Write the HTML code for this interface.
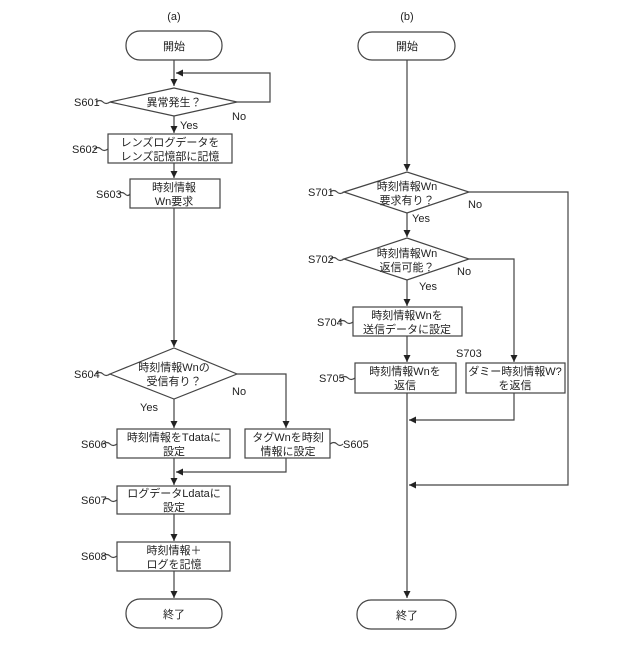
<!DOCTYPE html>
<html><head><meta charset="utf-8"><style>
html,body{margin:0;padding:0;background:#fff}
svg text{font-family:"Liberation Sans","Noto Sans CJK JP",sans-serif;font-size:11px;fill:#222}
</style></head><body>
<svg width="640" height="640" viewBox="0 0 640 640" xmlns="http://www.w3.org/2000/svg">
<defs><marker id="a" markerWidth="8" markerHeight="8" refX="7" refY="4" orient="auto" markerUnits="userSpaceOnUse"><path d="M0,0.5 L7,4 L0,7.5 z" fill="#222"/></marker></defs>
<g stroke="#444" stroke-width="1.2" fill="none">
<!-- left -->
<rect x="126" y="31" width="96" height="29" rx="14"/>
<line x1="174" y1="60" x2="174" y2="86" marker-end="url(#a)"/>
<polyline points="237,102 270,102 270,73 176,73" marker-end="url(#a)"/>
<polygon points="110,102 174,88 237,102 174,116"/>
<line x1="174" y1="116" x2="174" y2="133" marker-end="url(#a)"/>
<rect x="108" y="134" width="124" height="29"/>
<line x1="174" y1="163" x2="174" y2="178" marker-end="url(#a)"/>
<rect x="130" y="179" width="90" height="29"/>
<line x1="174" y1="208" x2="174" y2="347" marker-end="url(#a)"/>
<polygon points="110,374 174,348 237,374 174,399"/>
<polyline points="237,374 286,374 286,428" marker-end="url(#a)"/>
<line x1="174" y1="399" x2="174" y2="428" marker-end="url(#a)"/>
<rect x="117" y="429" width="113" height="29"/>
<rect x="245" y="429" width="85" height="29"/>
<line x1="174" y1="458" x2="174" y2="485" marker-end="url(#a)"/>
<polyline points="286,458 286,472 176,472" marker-end="url(#a)"/>
<rect x="117" y="486" width="113" height="28"/>
<line x1="174" y1="514" x2="174" y2="541" marker-end="url(#a)"/>
<rect x="117" y="542" width="113" height="29"/>
<line x1="174" y1="571" x2="174" y2="598" marker-end="url(#a)"/>
<rect x="126" y="599" width="96" height="29" rx="14"/>
<!-- right -->
<rect x="358" y="32" width="97" height="28" rx="14"/>
<line x1="407" y1="60" x2="407" y2="171" marker-end="url(#a)"/>
<polygon points="344,192 407,172 469,192 407,213"/>
<polyline points="469,192 568,192 568,485 409,485" marker-end="url(#a)"/>
<line x1="407" y1="213" x2="407" y2="237" marker-end="url(#a)"/>
<polygon points="344,259 407,238 469,259 407,280"/>
<polyline points="469,259 514,259 514,362" marker-end="url(#a)"/>
<line x1="407" y1="280" x2="407" y2="306" marker-end="url(#a)"/>
<rect x="353" y="307" width="109" height="29"/>
<line x1="407" y1="336" x2="407" y2="362" marker-end="url(#a)"/>
<rect x="355" y="363" width="101" height="30"/>
<rect x="466" y="363" width="99" height="30"/>
<polyline points="514,393 514,420 409,420" marker-end="url(#a)"/>
<line x1="407" y1="393" x2="407" y2="598" marker-end="url(#a)"/>
<rect x="357" y="600" width="99" height="29" rx="14"/>
<!-- tildes -->
<path d="M96,102 q4,-3 7,0 t7,0"/><path d="M94,149 q4,-3 7,0 t7,0"/><path d="M118,194 q4,-3 7,0 t5,0"/>
<path d="M96,374 q4,-3 7,0 t7,0"/><path d="M103,444 q4,-3 7,0 t7,0"/><path d="M103,500 q4,-3 7,0 t7,0"/><path d="M103,556 q4,-3 7,0 t7,0"/>
<path d="M330,444 q4,-3 7,0 t6,0"/>
<path d="M330,192 q4,-3 7,0 t7,0"/><path d="M330,259 q4,-3 7,0 t7,0"/><path d="M339,322 q4,-3 7,0 t7,0"/><path d="M341,378 q4,-3 7,0 t7,0"/>
</g>
<text x="174" y="20" text-anchor="middle" font-size="10">(a)</text>
<text x="407" y="20" text-anchor="middle" font-size="10">(b)</text>
<g text-anchor="middle">
<text x="174" y="50">開始</text>
<text x="174" y="106">異常発生？</text>
<text x="170" y="146">レンズログデータを</text><text x="170" y="160">レンズ記憶部に記憶</text>
<text x="174" y="191">時刻情報</text><text x="174" y="205">Wn要求</text>
<text x="174" y="371">時刻情報Wnの</text><text x="174" y="385">受信有り？</text>
<text x="174" y="441">時刻情報をTdataに</text><text x="174" y="455">設定</text>
<text x="288" y="441">タグWnを時刻</text><text x="288" y="455">情報に設定</text>
<text x="174" y="497">ログデータLdataに</text><text x="174" y="511">設定</text>
<text x="174" y="554">時刻情報＋</text><text x="174" y="568">ログを記憶</text>
<text x="174" y="618">終了</text>
<text x="407" y="50">開始</text>
<text x="407" y="190">時刻情報Wn</text><text x="407" y="204">要求有り？</text>
<text x="407" y="257">時刻情報Wn</text><text x="407" y="271">返信可能？</text>
<text x="407" y="319">時刻情報Wnを</text><text x="407" y="333">送信データに設定</text>
<text x="405" y="375">時刻情報Wnを</text><text x="405" y="389">返信</text>
<text x="515" y="375">ダミー時刻情報W?</text><text x="515" y="389">を返信</text>
<text x="407" y="619">終了</text>
</g>
<g font-size="10">
<text x="74" y="106" font-size="10">S601</text>
<text x="72" y="153" font-size="10">S602</text>
<text x="96" y="198" font-size="10">S603</text>
<text x="74" y="378" font-size="10">S604</text>
<text x="81" y="448" font-size="10">S606</text>
<text x="81" y="504" font-size="10">S607</text>
<text x="81" y="560" font-size="10">S608</text>
<text x="343" y="448" font-size="10">S605</text>
<text x="308" y="196" font-size="10">S701</text>
<text x="308" y="263" font-size="10">S702</text>
<text x="317" y="326" font-size="10">S704</text>
<text x="319" y="382" font-size="10">S705</text>
<text x="456" y="357" font-size="10">S703</text>
<text x="180" y="129" font-size="10">Yes</text>
<text x="232" y="120" font-size="10">No</text>
<text x="140" y="411" font-size="10">Yes</text>
<text x="232" y="395" font-size="10">No</text>
<text x="412" y="222" font-size="10">Yes</text>
<text x="468" y="208" font-size="10">No</text>
<text x="419" y="290" font-size="10">Yes</text>
<text x="457" y="275" font-size="10">No</text>
</g>
</svg>
</body></html>
